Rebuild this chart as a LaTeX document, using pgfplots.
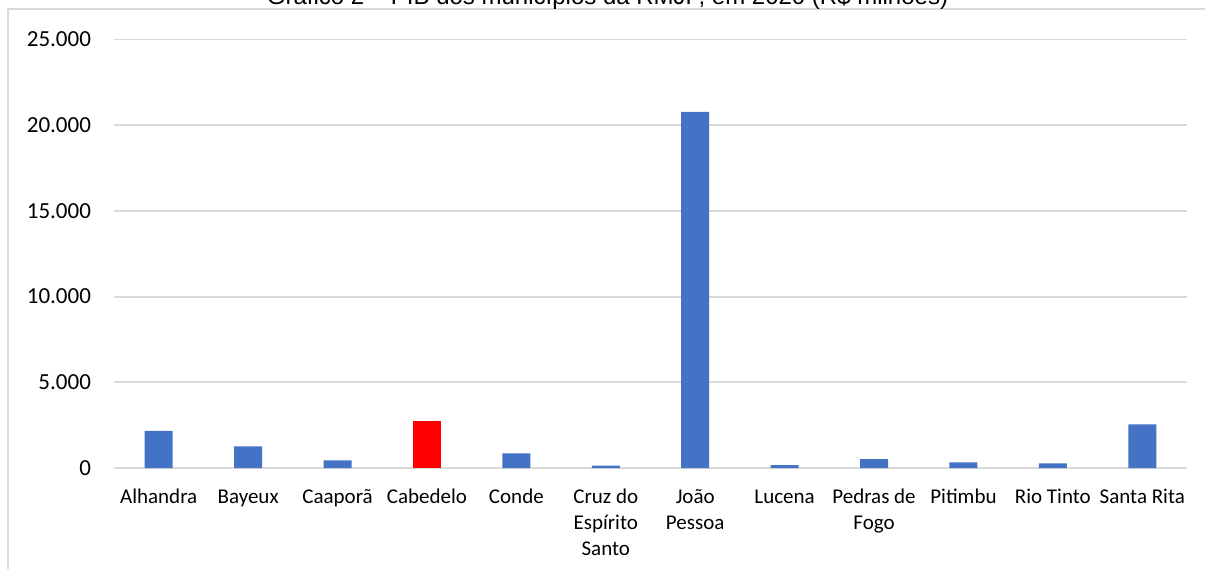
\documentclass[border=0pt]{standalone}
\usepackage{pgfplots}
\pgfplotsset{compat=1.18}
\usepackage{fontspec}
\setmainfont{Carlito}
\newfontfamily\arialf{Liberation Sans}
\definecolor{barblue}{HTML}{4472C4}
\definecolor{gridgray}{HTML}{D9D9D9}
\begin{document}
\begin{tikzpicture}
\begin{axis}[
  at={(57pt,50.5pt)}, anchor=south west,
  scale only axis, width=536.5pt, height=214.25pt,
  xmin=-0.5, xmax=11.5, ymin=0, ymax=25000,
  scaled y ticks=false,
  axis line style={draw=none},
  major tick length=0pt,
  ymajorgrids, grid style={gridgray, line width=0.9pt},
  ytick={0,5000,10000,15000,20000,25000},
  yticklabels={0,{5.000},{10.000},{15.000},{20.000},{25.000}},
  yticklabel style={anchor=east, xshift=-8pt, font=\fontsize{11.5}{13}\selectfont},
  xtick={0,1,2,3,4,5,6,7,8,9,10,11},
  xticklabels={\strut Alhandra,\strut Bayeux,\strut Caaporã,\strut Cabedelo,\strut Conde,{\strut Cruz do\\Espírito\\Santo},{\strut João\\Pessoa},\strut Lucena,{\strut Pedras de\\Fogo},\strut Pitimbu,\strut Rio Tinto,\strut Santa Rita},
  xticklabel style={align=center, anchor=north, font=\fontsize{10.5}{13}\selectfont, yshift=-5pt},
  ybar, bar width=14pt, bar shift=0pt,
  clip=false,
]
\addplot[fill=barblue, draw=none] coordinates {
  (0,2160) (1,1265) (2,450) (4,857) (5,140) (6,20780) (7,175) (8,525) (9,330) (10,274) (11,2546)
};
\addplot[fill=red, draw=none] coordinates {(3,2739)};
\end{axis}
\draw[gridgray, line width=1pt] (4pt,0) -- (4pt,280pt) -- (603pt,280pt);
\node[anchor=base, inner sep=0pt, font=\arialf\fontsize{12}{14}\selectfont] at (303.75pt,282pt) {Gráfico 2 – PIB dos municípios da RMJP, em 2020 (R\$ milhões)};
\pgfresetboundingbox
\path[use as bounding box] (0,0) rectangle (602.5pt,284.5pt);
\end{tikzpicture}
\end{document}
